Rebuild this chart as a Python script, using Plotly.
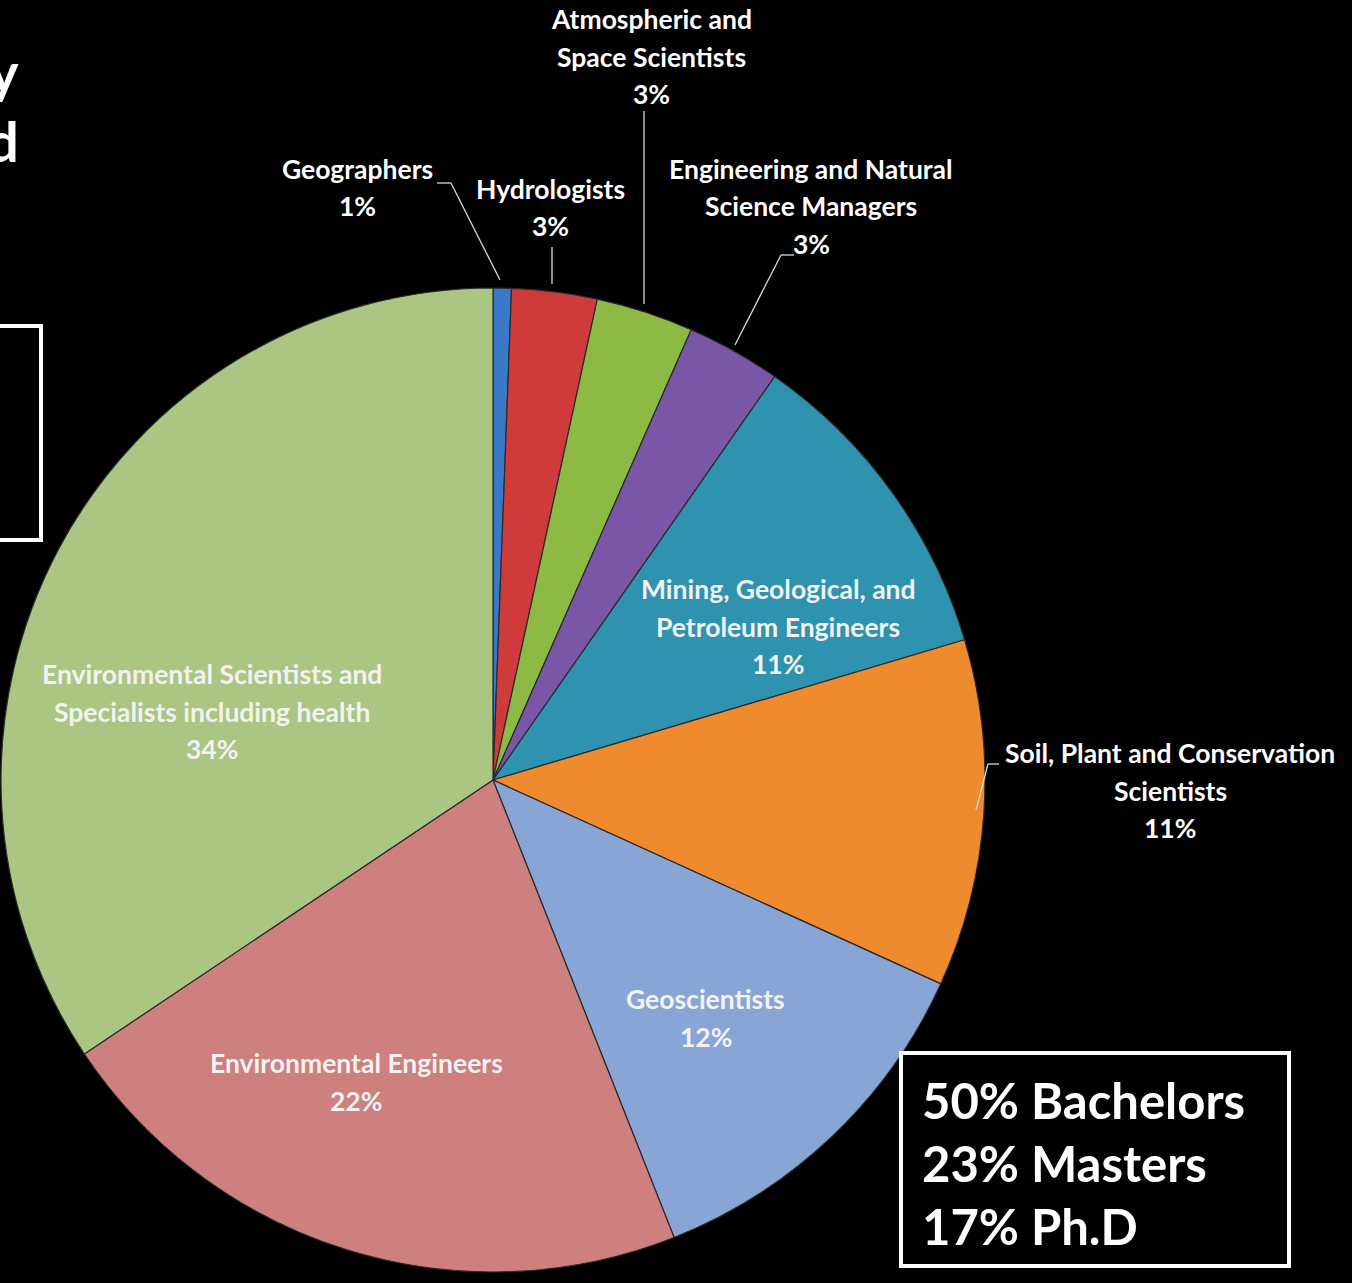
import plotly.graph_objects as go

# ---- data ----
labels = [
    "Geographers",
    "Hydrologists",
    "Atmospheric and Space Scientists",
    "Engineering and Natural Science Managers",
    "Mining, Geological, and Petroleum Engineers",
    "Soil, Plant and Conservation Scientists",
    "Geoscientists",
    "Environmental Engineers",
    "Environmental Scientists and Specialists including health",
]
label_lines = [
    ["Geographers"],
    ["Hydrologists"],
    ["Atmospheric and", "Space Scientists"],
    ["Engineering and Natural", "Science Managers"],
    ["Mining, Geological, and", "Petroleum Engineers"],
    ["Soil, Plant and Conservation", "Scientists"],
    ["Geoscientists"],
    ["Environmental Engineers"],
    ["Environmental Scientists and", "Specialists including health"],
]
values = [0.6, 2.8, 3.2, 3.1, 10.7, 11.4, 12.2, 21.6, 34.4]
colors = ["#3A78C8", "#CF3B3B", "#8DBA45", "#7A56A6", "#2F93B0",
          "#F08A2E", "#89A5D5", "#CD807E", "#ABC583"]
degree_lines = ["50% Bachelors", "23% Masters", "17% Ph.D"]

# ---- layout helpers (pixel -> paper) ----
W, H = 1352, 1283
def px(x):
    return x / W
def py(y):
    return 1 - y / H

total = sum(values)
pct = [f"{round(v / total * 100)}%" for v in values]

cx, cy, r = 493, 780, 492
fig = go.Figure(go.Pie(
    labels=labels, values=values, sort=False, direction="clockwise",
    rotation=0, textinfo="none", hoverinfo="label+percent",
    marker=dict(colors=colors, line=dict(color="#2a2a2a", width=1.2)),
    domain=dict(x=[px(cx - r), px(cx + r)], y=[py(cy + r), py(cy - r)]),
    showlegend=False,
))

# label placement: (center x, first line y, text colour)
placements = [
    (357, 169, "white"),
    (550, 189, "white"),
    (651, 19, "white"),
    (811, 169, "white"),
    (778, 589, "#F2F2F2"),
    (1170, 753, "white"),
    (706, 999, "#F2F2F2"),
    (356, 1063, "#F2F2F2"),
    (212, 674, "#F2F2F2"),
]
annotations = []
font_family = "Lato, 'Open Sans', sans-serif"
for lines, p, (x, y0, col) in zip(label_lines, pct, placements):
    for i, t in enumerate(lines + [p]):
        annotations.append(dict(
            x=px(x), y=py(y0 + i * 37.5), xref="paper", yref="paper",
            text=f"<b>{t}</b>", showarrow=False, xanchor="center", yanchor="middle",
            font=dict(family=font_family, size=26.5, color=col),
        ))

# degree box text
for i, t in enumerate(degree_lines):
    annotations.append(dict(
        x=px(920), y=py(1100 + i * 63), xref="paper", yref="paper",
        text=f"<b>{t}</b>", showarrow=False, xanchor="left", yanchor="middle",
        font=dict(family=font_family, size=49, color="white"),
    ))

# partially visible title letters at the left edge
for t, y in [("y", 72), ("d", 140)]:
    annotations.append(dict(
        x=px(21), y=py(y), xref="paper", yref="paper",
        text=f"<b>{t}</b>", showarrow=False, xanchor="right", yanchor="middle",
        font=dict(family=font_family, size=56, color="white"),
    ))

def seg(x0, y0, x1, y1):
    return dict(type="line", xref="paper", yref="paper",
                x0=px(x0), y0=py(y0), x1=px(x1), y1=py(y1),
                line=dict(color="#D9D9D9", width=1.3))

shapes = [
    # leader lines
    seg(437, 183, 451, 183), seg(451, 183, 500, 280),
    seg(552, 247, 552, 284),
    seg(644, 111, 644, 304),
    seg(794, 255, 781, 255), seg(781, 255, 735, 345),
    seg(999, 764, 988, 764), seg(988, 764, 976, 810),
    # boxes
    dict(type="rect", xref="paper", yref="paper",
         x0=px(901), y0=py(1266), x1=px(1289), y1=py(1053),
         line=dict(color="white", width=4)),
    dict(type="rect", xref="paper", yref="paper",
         x0=px(-10), y0=py(540), x1=px(41), y1=py(326),
         line=dict(color="white", width=4)),
]

fig.update_layout(
    width=W, height=H, margin=dict(l=0, r=0, t=0, b=0),
    paper_bgcolor="black", plot_bgcolor="black",
    annotations=annotations, shapes=shapes,
)
fig.write_html("out.html")
